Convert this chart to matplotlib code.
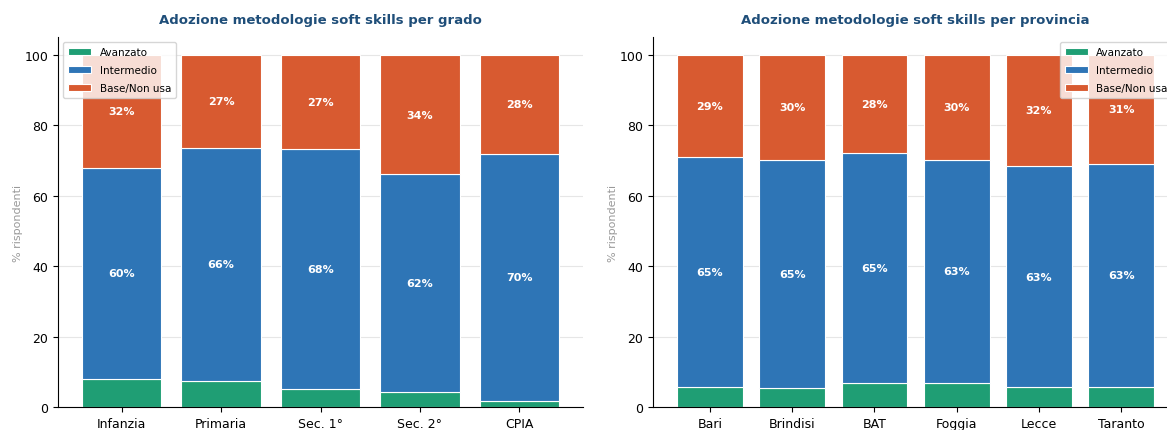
import matplotlib
matplotlib.use("Agg")
import matplotlib.pyplot as plt
import numpy as np

# dati per grado
gradi = ["Infanzia", "Primaria", "Sec. 1°", "Sec. 2°", "CPIA"]
gr_avanzato = [8.0, 7.5, 5.1, 4.2, 1.8]
gr_intermedio = [59.9, 65.9, 68.1, 61.8, 70.1]
gr_base = [32.1, 26.6, 26.8, 34.0, 28.1]

# dati per provincia
province = ["Bari", "Brindisi", "BAT", "Foggia", "Lecce", "Taranto"]
pr_avanzato = [5.8, 5.5, 6.7, 6.9, 5.6, 5.8]
pr_intermedio = [65.2, 64.6, 65.4, 63.2, 62.7, 63.2]
pr_base = [29.0, 29.9, 27.9, 29.9, 31.7, 31.0]

livelli = ["Avanzato", "Intermedio", "Base/Non usa"]
colori = ["#1f9e74", "#2e75b6", "#d85a30"]


def stacked(ax, cats, series, title, legend_loc):
    x = np.arange(len(cats))
    bottom = np.zeros(len(cats))
    for nome, vals, col in zip(livelli, series, colori):
        vals = np.array(vals)
        ax.bar(x, vals, 0.8, bottom=bottom, color=col, edgecolor="white",
               linewidth=0.8, label=nome, zorder=2)
        for xi, b, v in zip(x, bottom, vals):
            if v >= 10:
                ax.text(xi, b + v / 2, "%d%%" % round(v), ha="center", va="center",
                        color="white", fontsize=8, fontweight="bold", zorder=3)
        bottom = bottom + vals
    ax.set_xticks(x)
    ax.set_xticklabels(cats, fontsize=9)
    ax.tick_params(axis="y", labelsize=9)
    ax.set_ylim(0, 105)
    ax.set_ylabel("% rispondenti", color="#999999", fontsize=8, labelpad=1)
    ax.set_title(title, fontsize=9.5, fontweight="bold", color="#1f4e79", pad=10)
    ax.yaxis.grid(True, color="#e6e6e6", linewidth=0.8, zorder=0)
    ax.set_axisbelow(True)
    for s in ["top", "right"]:
        ax.spines[s].set_visible(False)
    ax.legend(loc=legend_loc, fontsize=7.5, framealpha=0.8, labelspacing=0.75,
              handlelength=2.2, borderpad=0.5)


fig = plt.figure(figsize=(11.67, 4.31), dpi=100)
ax1 = fig.add_axes([0.0497, 0.0534, 0.4499, 0.8584])
ax2 = fig.add_axes([0.5596, 0.0534, 0.4499, 0.8584])

stacked(ax1, gradi, [gr_avanzato, gr_intermedio, gr_base],
        "Adozione metodologie soft skills per grado", "upper left")
stacked(ax2, province, [pr_avanzato, pr_intermedio, pr_base],
        "Adozione metodologie soft skills per provincia", "upper right")

fig.savefig("out.png", dpi=100)
